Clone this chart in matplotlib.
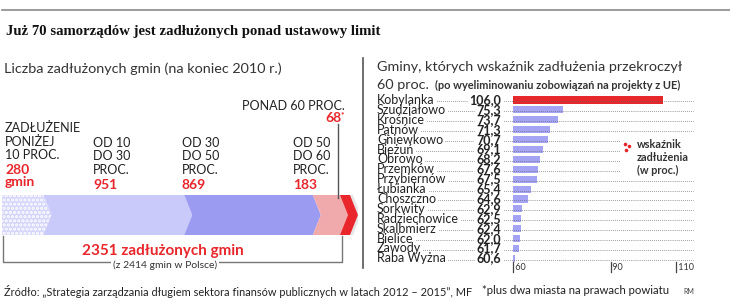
import matplotlib.pyplot as plt
from matplotlib.patches import Polygon
from matplotlib.lines import Line2D
import matplotlib.transforms as mtransforms

plt.rcParams['font.family'] = ['Lato', 'DejaVu Sans']
plt.rcParams['hatch.linewidth'] = 1.6

W, H = 730, 302

# left panel: number of indebted municipalities per debt bracket
groups = ["ZADŁUŻENIE\nPONIŻEJ\n10 PROC.", "OD 10\nDO 30\nPROC.", "OD 30\nDO 50\nPROC.",
          "OD 50\nDO 60\nPROC.", "PONAD 60 PROC."]
counts = [280, 951, 869, 183, 68]
band_colors = ["#d4d4fb", "#c9c9fa", "#9c9bf2", "#f1aaab", "#e8262b"]

# right panel: municipalities above 60 percent
gminy = ["Kobylanka", "Szudziałowo", "Krośnice", "Pątnów", "Gniewkowo", "Bieżuń", "Obrowo",
         "Przemków", "Przybiernów", "Łubianka", "Choszczno", "Sorkwity", "Radziechowice",
         "Skalbmierz", "Bielice", "Zawody", "Raba Wyżna"]
wskaznik = [106.0, 75.3, 73.7, 71.3, 70.7, 69.1, 68.2, 67.6, 67.5, 65.4, 64.6, 62.9, 62.5,
            62.4, 62.0, 61.7, 60.6]
x_ticks = [60, 90, 110]


def fx(x):
    return x / W


def fy(y):
    return 1 - y / H


fig = plt.figure(figsize=(W / 100, H / 100), dpi=100)
ft = fig.transFigure

# header
fig.add_artist(Line2D([fx(2), fx(730)], [fy(10), fy(10)], color="#8a8a8a", lw=1.2, transform=ft))
fig.text(fx(6), fy(32), "Już 70 samorządów jest zadłużonych ponad ustawowy limit",
         family="Liberation Serif", weight="bold", fontsize=10.6, va="center", color="#111")
fig.text(fx(4), fy(69), "Liczba zadłużonych gmin (na koniec 2010 r.)", fontsize=10.4,
         va="center", color="#333")
fig.text(fx(377), fy(67), "Gminy, których wskaźnik zadłużenia przekroczył", fontsize=10.4,
         va="center", color="#333")
fig.text(fx(377), fy(85), "60 proc.", fontsize=10.4, va="center", color="#333")
fig.text(fx(435), fy(85), "(po wyeliminowaniu zobowiązań na projekty z UE)", fontsize=7.9,
         weight="bold", va="center", color="#333")
fig.add_artist(Line2D([fx(363), fx(363)], [fy(58), fy(268)], color="#555", lw=1.2, transform=ft))

# ---- left panel: chevron band ----
total = sum(counts)
ax1 = fig.add_axes([fx(2), fy(235), (358 - 2) / W, 40 / H])
xmax = total * 356 / 348
ax1.set_xlim(0, xmax)
ax1.set_ylim(0, 1)
ax1.axis("off")
d = 54
left = 0
for i, c in enumerate(counts):
    right = left + c
    if i == 0:
        pts = [(left, 0), (right, 0), (right + d, 0.5), (right, 1), (left, 1)]
        ax1.add_patch(Polygon(pts, facecolor=band_colors[i], edgecolor="white", hatch="....",
                              lw=0))
    else:
        pts = [(left, 0), (right, 0), (right + d, 0.5), (right, 1), (left, 1), (left + d, 0.5)]
        ax1.add_patch(Polygon(pts, facecolor=band_colors[i], lw=0))
    left = right
tip = 20
ax1.add_patch(Polygon([(total, 0), (total + tip, 0), (total + tip + d, 0.5), (total + tip, 1),
                       (total, 1), (total + d, 0.5)], facecolor="#e6e6e6", lw=0, zorder=0))

# category labels
lab_x = [5, 93, 182, 293]
for i in range(4):
    lines = groups[i].split("\n")
    y0 = 128 if i == 0 else 143
    step = 13.5
    for k, ln in enumerate(lines):
        fig.text(fx(lab_x[i]), fy(y0 + k * step), ln, fontsize=9, va="center", color="#222")
    if i == 0:
        fig.text(fx(lab_x[i]), fy(170), str(counts[i]), fontsize=10, weight="bold",
                 va="center", color="#e8262b")
        fig.text(fx(lab_x[i]), fy(182), "gmin", fontsize=10, weight="bold", va="center",
                 color="#e8262b")
    else:
        fig.text(fx(lab_x[i]), fy(185), str(counts[i]), fontsize=10, weight="bold",
                 va="center", color="#e8262b")
fig.text(fx(345), fy(106), groups[4], fontsize=9, va="center", ha="right", color="#222")
fig.text(fx(341), fy(118), str(counts[4]), fontsize=10, weight="bold", va="center", ha="right",
         color="#e8262b")
fig.text(fx(341), fy(115), "*", fontsize=6, weight="bold", va="center", ha="left",
         color="#e8262b")
fig.add_artist(Line2D([fx(338), fx(338)], [fy(124), fy(198)], color="#555", lw=1, transform=ft))

# bracket below band
fig.add_artist(Line2D([fx(3), fx(3), fx(342), fx(342)], [fy(236), fy(262), fy(262), fy(236)],
                      color="#777", lw=1, transform=ft))
fig.text(fx(163), fy(251), f"{total} zadłużonych gmin", fontsize=11, weight="bold",
         ha="center", va="center", color="#e8262b")
fig.text(fx(165), fy(265), "(z 2414 gmin w Polsce)", fontsize=7.5, ha="center", va="center",
         color="#333", bbox=dict(facecolor="white", edgecolor="none", pad=1.5))

# ---- right panel: bars ----
n = len(gminy)
row0, rstep = 100, 9.9
scale = 3.25
x0px, x1px = 513, 693
ax2 = fig.add_axes([fx(x0px), fy(row0 + (n - 0.5) * rstep), (x1px - x0px) / W,
                    n * rstep / H])
ax2.set_xlim(60, 60 + (x1px - x0px) / scale)
ax2.set_ylim(n - 0.5, -0.5)
ax2.axis("off")
ypos = list(range(n))
bar_colors = ["#e5262b"] + ["#a5a4f4"] * (n - 1)
ax2.barh(ypos, [v - 60 for v in wskaznik], left=60, height=0.72, color=bar_colors, zorder=3)

tr = mtransforms.blended_transform_factory(ft, ax2.transData)
name_txt, val_txt = [], []
for i in range(n):
    name_txt.append(fig.text(fx(377), i, gminy[i], transform=tr, fontsize=9, va="center",
                             color="#222"))
    val_txt.append(fig.text(fx(501), i, f"{wskaznik[i]:.1f}".replace(".", ","), transform=tr,
                            fontsize=9, weight="bold", va="center", ha="right", color="#222"))

# dotted leaders between the texts
fig.canvas.draw()
rend = fig.canvas.get_renderer()
for i in range(n):
    end = 620 if 4 <= i <= 7 else 693
    nb = name_txt[i].get_window_extent(rend)
    vb = val_txt[i].get_window_extent(rend)
    for a, b in [(nb.x1 + 2, vb.x0 - 2), (vb.x1 + 3, end)]:
        fig.add_artist(Line2D([fx(a), fx(b)], [i + 0.15, i + 0.15], transform=tr, color="#666",
                              lw=0.7, linestyle=(0, (0.6, 1.4)), zorder=1))

trx = mtransforms.blended_transform_factory(ax2.transData, ft)
for t in x_ticks:
    fig.add_artist(Line2D([t, t], [fy(262), fy(272)], transform=trx, color="#444", lw=0.9))
    fig.text(t, fy(268), f" {t}", transform=trx, fontsize=6.5, va="center", ha="left",
             color="#333")

# legend
ax2.scatter([94.6, 95.6, 94.9], [4.45, 4.65, 5.1], s=2.5, color="#e5262b", zorder=4,
            clip_on=False)
for k, ln in enumerate(["wskaźnik", "zadłużenia", "(w proc.)"]):
    fig.text(fx(637), fy(145 + k * 12.5), ln, fontsize=7.8, weight="bold", va="center",
             color="#333")

# footer
fig.text(fx(4), fy(291), "Źródło: „Strategia zarządzania długiem sektora finansów publicznych "
         "w latach 2012 – 2015”, MF", fontsize=7.9, va="center", color="#222")
fig.text(fx(482), fy(291), "*plus dwa miasta na prawach powiatu", fontsize=8.2, va="center",
         color="#222")
fig.text(fx(683), fy(292), "RM", fontsize=5, va="center", color="#444")

fig.savefig("out.png", dpi=100)
